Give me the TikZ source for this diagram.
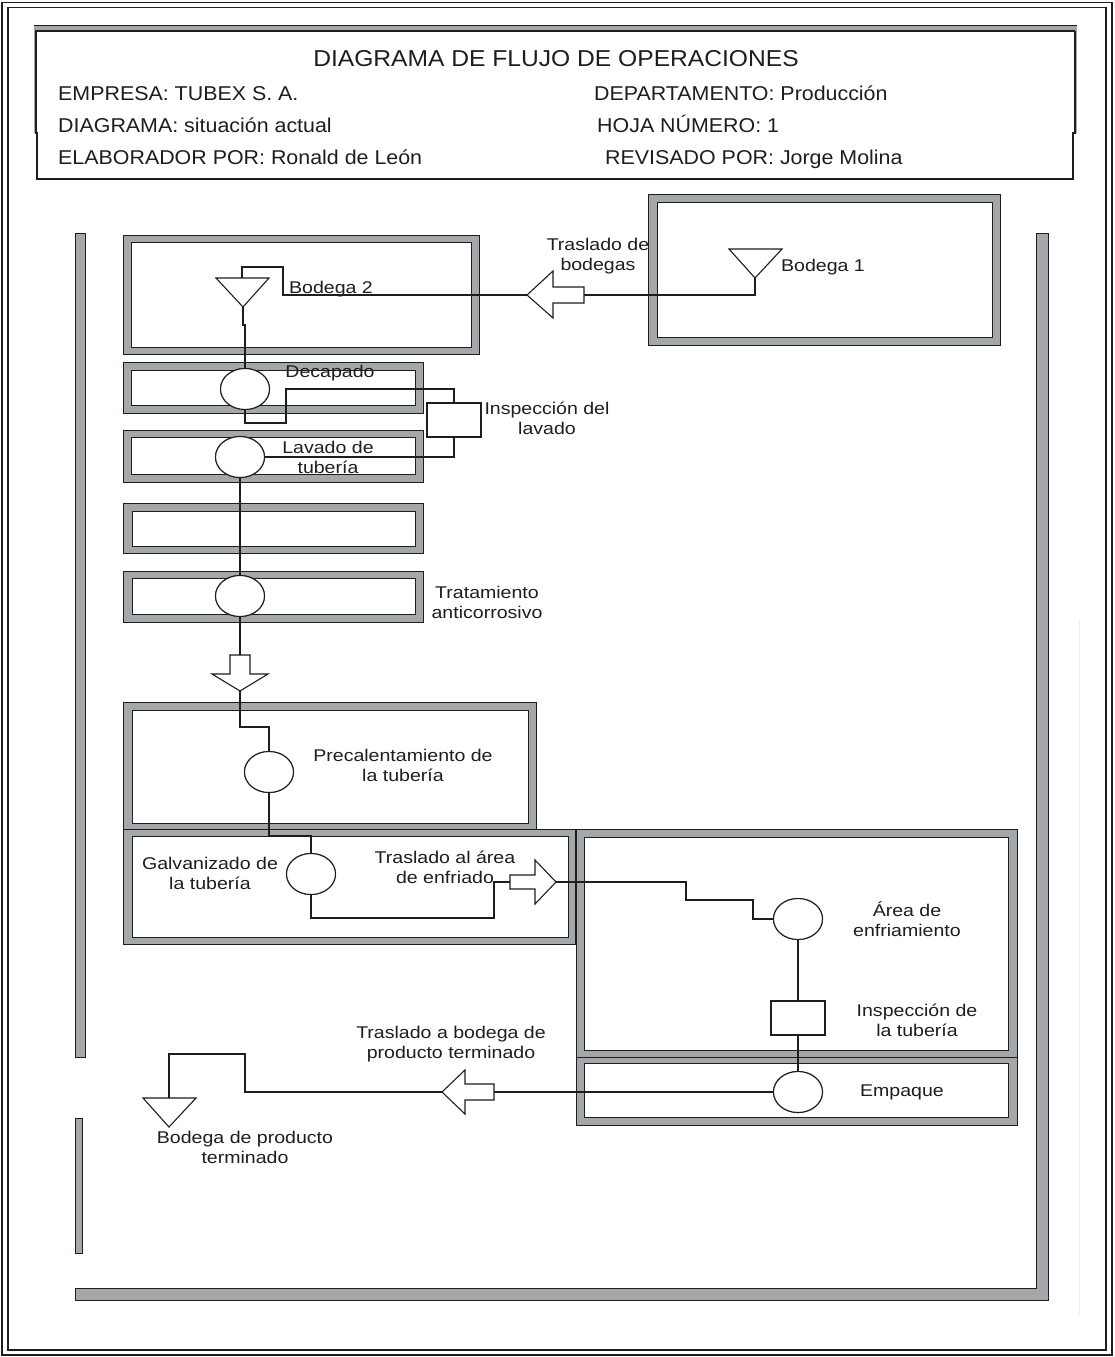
\documentclass[tikz,border=0pt]{standalone}
\usepackage{fontspec}
\setmainfont{Liberation Sans}
\newfontfamily\hdrfont{Liberation Sans}[FakeStretch=1.07]
\newfontfamily\lblfont{Liberation Sans}[FakeStretch=1.15]
\usetikzlibrary{shapes.geometric}
\definecolor{wallgray}{RGB}{165,168,170}
\definecolor{ink}{RGB}{30,30,30}
\tikzset{
  wall/.style={fill=wallgray, draw=ink, line width=0.9pt},
  roomin/.style={fill=white, draw=ink, line width=0.9pt},
  conn/.style={draw=ink, line width=1.1pt},
  oper/.style={ellipse, draw=ink, line width=1.1pt, fill=white, minimum width=49pt, minimum height=41pt, inner sep=0pt},
  insp/.style={rectangle, draw=ink, line width=1.1pt, fill=white, minimum width=54pt, minimum height=34pt, inner sep=0pt},
  symb/.style={draw=ink, line width=1.1pt, fill=white},
  lbl/.style={font=\lblfont\fontsize{17}{20}\selectfont, align=center, inner sep=0pt, text=ink},
  hdr/.style={font=\hdrfont\fontsize{20}{24}\selectfont, inner sep=0pt, anchor=base west, text=ink},
}
\begin{document}
\begin{tikzpicture}[x=1pt,y=-1pt]
\useasboundingbox (0,0) rectangle (1114,1357);
\fill[white] (0,0) rectangle (1114,1357);
% outer double frame
\draw[ink, line width=1.1pt] (2,2.5) rectangle (1112,1355);
\draw[ink, line width=1.1pt] (8,7.5) rectangle (1106,1350);
% header box
\fill[wallgray] (34,25) rectangle (1077,31);
\draw[ink, line width=0.8pt] (34,25) -- (1077,25);
\draw[wallgray, line width=3pt] (35,28) -- (35,133);
\draw[wallgray, line width=3pt] (1075,28) -- (1075,133);
\draw[ink, line width=1.2pt] (35,31) -- (1075,31);
\draw[ink, line width=1.2pt] (36,31) -- (36,133) -- (37,133) -- (37,179) -- (1073,179) -- (1073,133) -- (1075,133) -- (1075,31);
\node[font=\hdrfont\fontsize{23}{26}\selectfont, inner sep=0pt, anchor=base, text=ink] (title) at (556,66) {DIAGRAMA DE FLUJO DE OPERACIONES};
\node[hdr] (emp) at (58,100) {EMPRESA: TUBEX S. A.};
\node[hdr] (dep) at (594,100) {DEPARTAMENTO: Producción};
\node[hdr] (dia) at (58,132) {DIAGRAMA: situación actual};
\node[hdr] (hoja) at (597,132) {HOJA NÚMERO: 1};
\node[hdr] (ela) at (58,164) {ELABORADOR POR: Ronald de León};
\node[hdr] (rev) at (605,164) {REVISADO POR: Jorge Molina};
% walls
\filldraw[wall] (75,233) rectangle (85,1057);
\filldraw[wall] (75,1118) rectangle (82,1253);
\filldraw[wall] (1036,233) -- (1048,233) -- (1048,1300) -- (75,1300) -- (75,1288) -- (1036,1288) -- cycle;
\draw[black!6, line width=1pt] (1079,620) -- (1079,1315);
% rooms
\filldraw[wall] (648,194) rectangle (1000,345); \filldraw[roomin] (657,202) rectangle (992,337);
\filldraw[wall] (123,235) rectangle (479,354); \filldraw[roomin] (131,242) rectangle (471,347);
\filldraw[wall] (123,362) rectangle (423,413); \filldraw[roomin] (131,370) rectangle (415,405);
\filldraw[wall] (123,430) rectangle (423,482); \filldraw[roomin] (131,437) rectangle (415,474);
\filldraw[wall] (123,503) rectangle (423,553); \filldraw[roomin] (132,511) rectangle (415,546);
\filldraw[wall] (123,571) rectangle (423,622); \filldraw[roomin] (132,578) rectangle (415,614);
\filldraw[wall] (123,702) rectangle (536,829); \filldraw[roomin] (132,710) rectangle (528,823);
\filldraw[wall] (123,829) rectangle (575,944); \filldraw[roomin] (132,836) rectangle (568,937);
\filldraw[wall] (576,829) rectangle (1017,1057); \filldraw[roomin] (584,837) rectangle (1008,1050);
\filldraw[wall] (576,1057) rectangle (1017,1125); \filldraw[roomin] (584,1063) rectangle (1008,1117);
% symbol anchor coordinates
\coordinate (b1top) at (755,249); \coordinate (b1apex) at (755,278);
\coordinate (b2top) at (242,278); \coordinate (b2apex) at (243,307);
\coordinate (b3top) at (169,1098); \coordinate (b3apex) at (169,1127);
\coordinate (a1tip) at (527,295); \coordinate (a1tail) at (584,295);
\coordinate (a2tip) at (240,691); \coordinate (a2tail) at (240,655);
\coordinate (a3tip) at (556,882); \coordinate (a3tail) at (510,882);
\coordinate (a4tip) at (442,1092); \coordinate (a4tail) at (494,1092);
% operation / inspection nodes
\node[oper] (dec) at (245,389) {};
\node[oper] (lav) at (240,457) {};
\node[oper] (trat) at (240,596) {};
\node[oper] (prec) at (269,772) {};
\node[oper] (galv) at (311,874) {};
\node[oper] (area) at (798,919) {};
\node[oper] (empq) at (798,1092) {};
\node[insp] (insp1) at (454,420) {};
\node[insp] (insp2) at (798,1018) {};
% connectors
\draw[conn] (b1apex) |- (a1tail);
\draw[conn] (a1tip) -| (283,267) -| (b2top);
\draw[conn] (b2apex) -- ++(0,18) -| (dec.north);
\draw[conn] (dec.south) |- (286,423) -- (286,389) -| (insp1.north);
\draw[conn] (insp1.south) |- (lav.east);
\draw[conn] (lav.south) -- (trat.north);
\draw[conn] (trat.south) -- (a2tail);
\draw[conn] (a2tip) -- ++(0,36) -| (prec.north);
\draw[conn] (prec.south) -- ++(0,42) -| (galv.north);
\draw[conn] (galv.south) |- (494,918) |- (a3tail);
\draw[conn] (a3tip) -| (686,900) -| (753,919) -- (area.west);
\draw[conn] (area.south) -- (insp2.north);
\draw[conn] (insp2.south) -- (empq.north);
\draw[conn] (empq.west) -- (a4tail);
\draw[conn] (a4tip) -| (245,1054) -| (b3top);
% redraw nodes on top of connectors
\node[oper] at (dec) {};
\node[oper] at (lav) {};
\node[oper] at (trat) {};
\node[oper] at (prec) {};
\node[oper] at (galv) {};
\node[oper] at (area) {};
\node[oper] at (empq) {};
\node[insp] at (insp1) {};
\node[insp] at (insp2) {};
% storage triangles
\filldraw[symb] (729,249) -- (782,249) -- (b1apex) -- cycle;
\filldraw[symb] (216,278) -- (269,278) -- (b2apex) -- cycle;
\filldraw[symb] (143,1098) -- (196,1098) -- (b3apex) -- cycle;
% transport block arrows
\filldraw[symb] (a1tip) -- (553,271) -- (553,287) -- (584,287) -- (584,303) -- (553,303) -- (553,318) -- cycle;
\filldraw[symb] (a2tail) ++(-10,0) -- ++(20,0) -- (250,674) -- (268,674) -- (a2tip) -- (212,674) -- (230,674) -- cycle;
\filldraw[symb] (a3tail) ++(0,-7) -- (535,875) -- (535,860) -- (a3tip) -- (535,904) -- (535,889) -- (510,889) -- cycle;
\filldraw[symb] (a4tip) -- (465,1070) -- (465,1084) -- (494,1084) -- (494,1100) -- (465,1100) -- (465,1114) -- cycle;
% labels
\node[lbl] (lb1) at (823,267) {Bodega 1};
\node[lbl] (ltb) at (598,256) {Traslado de\\bodegas};
\node[lbl] (lb2) at (331,289) {Bodega 2};
\node[lbl] (ldec) at (330,373) {Decapado};
\node[lbl] (lin1) at (547,418) {Inspección del\\lavado};
\node[lbl] (llav) at (328,457) {Lavado de\\tubería};
\node[lbl] (ltrat) at (487,602) {Tratamiento\\anticorrosivo};
\node[lbl] (lprec) at (403,765) {Precalentamiento de\\la tubería};
\node[lbl] (lgalv) at (210,873) {Galvanizado de\\la tubería};
\node[lbl] (ltae) at (445,867) {Traslado al área\\de enfriado};
\node[lbl] (larea) at (907,919) {Área de\\enfriamiento};
\node[lbl] (lin2) at (917,1020) {Inspección de\\la tubería};
\node[lbl] (lemp) at (902,1092) {Empaque};
\node[lbl] (ltbp) at (451,1044) {Traslado a bodega de\\producto terminado};
\node[lbl] (lbpt) at (245,1147) {Bodega de producto\\terminado};
\end{tikzpicture}
\end{document}
